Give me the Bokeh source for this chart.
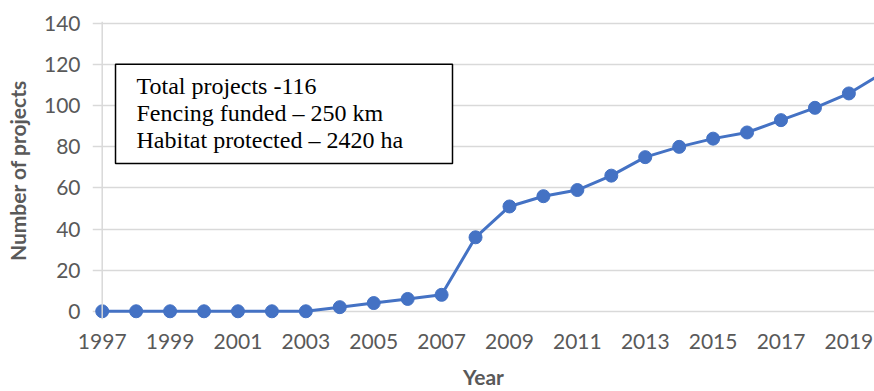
from bokeh.plotting import figure
from bokeh.models import Range1d, FixedTicker, BoxAnnotation, Label, Span
from bokeh.embed import file_html
from bokeh.resources import INLINE

# Cumulative number of funded projects per year
years = list(range(1997, 2021))
projects = [0, 0, 0, 0, 0, 0, 0, 2, 4, 6, 8, 36, 51, 56, 59, 66, 75, 80, 84, 87, 93, 99, 106, 116]

year_ticks = list(range(1997, 2020, 2))
count_ticks = list(range(0, 141, 20))

summary_lines = [
    "Total projects -116",
    "Fencing funded \u2013 250 km",
    "Habitat protected \u2013 2420 ha",
]

AXIS_GREY = "#595959"
GRID_GREY = "#d9d9d9"
SERIES_BLUE = "#4472C4"

p = figure(
    width=874, height=391,
    output_backend="svg", toolbar_location=None,
    x_range=Range1d(1996.714, 2019.755),
    y_range=Range1d(-4, 141),
    min_border_left=92, min_border_right=0,
    min_border_top=21, min_border_bottom=70,
)
p.outline_line_color = None
p.background_fill_color = "white"
p.border_fill_color = "white"

# horizontal gridlines only
p.xgrid.visible = False
p.ygrid.ticker = FixedTicker(ticks=count_ticks)
p.ygrid.grid_line_color = GRID_GREY
p.ygrid.grid_line_width = 1.5

# value axis line sits at the first year
p.add_layout(Span(location=years[0], dimension="height",
                  line_color=GRID_GREY, line_width=1.5))

for ax in (p.xaxis, p.yaxis):
    ax.axis_line_color = None
    ax.major_tick_line_color = None
    ax.minor_tick_line_color = None
    ax.major_label_text_font = "Lato"
    ax.major_label_text_font_size = "21px"
    ax.major_label_text_color = AXIS_GREY
    ax.axis_label_text_font = "Lato"
    ax.axis_label_text_font_size = "21px"
    ax.axis_label_text_font_style = "bold"
    ax.axis_label_text_color = AXIS_GREY

p.xaxis.ticker = FixedTicker(ticks=year_ticks)
p.yaxis.ticker = FixedTicker(ticks=count_ticks)
p.xaxis.axis_label = "Year"
p.yaxis.axis_label = "Number of projects"
p.xaxis.major_label_standoff = 8
p.xaxis.axis_label_standoff = 12
p.yaxis.major_label_standoff = 6
p.yaxis.axis_label_standoff = 11

p.line(years, projects, line_color=SERIES_BLUE, line_width=3)
p.scatter(years, projects, size=13, fill_color=SERIES_BLUE, line_color=SERIES_BLUE)

# summary box
p.add_layout(BoxAnnotation(left=1997.392, right=2007.321, top=120.24, bottom=71.95,
                           fill_color="white", fill_alpha=1.0,
                           line_color="black", line_width=1.5, line_alpha=1.0))
p.add_layout(Label(x=1998.01, y=115.7, text="\n".join(summary_lines),
                   text_font="Liberation Serif", text_font_size="24px",
                   text_color="black", text_align="left", text_baseline="top",
                   text_line_height=1.03))

open("out.html", "w").write(file_html(p, INLINE))
